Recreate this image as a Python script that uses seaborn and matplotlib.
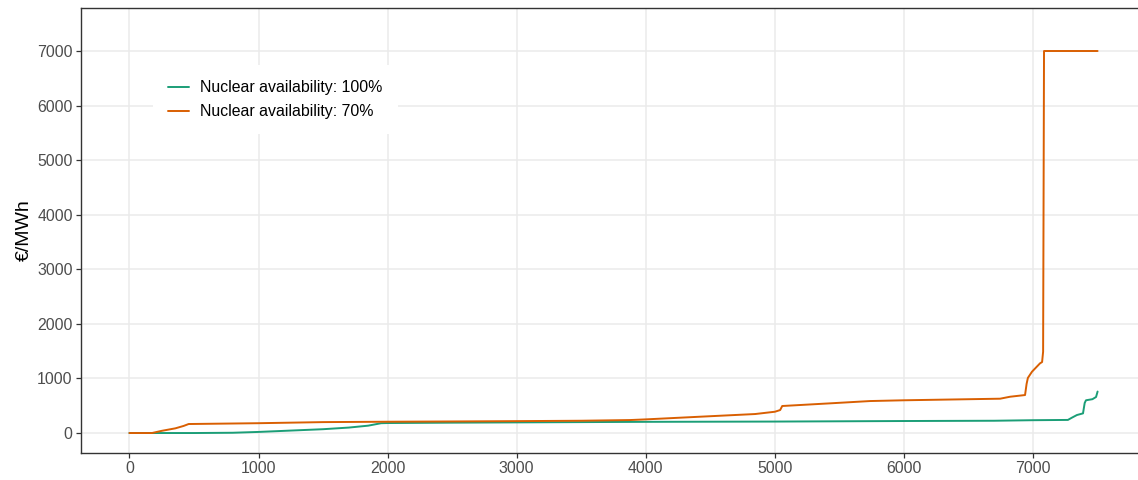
import matplotlib
matplotlib.use("Agg")
import matplotlib.pyplot as plt
import pandas as pd
import seaborn as sns

# Price duration curves (hours sorted by price)
green_x = [0, 150, 500, 800, 1000, 1300, 1500, 1700, 1850, 1950, 2000, 2500,
           3000, 3500, 4000, 5000, 6000, 6700, 7000, 7270, 7300, 7340, 7387,
           7400, 7410, 7460, 7488, 7500]
green_y = [0, 0, 0, 5, 20, 50, 70, 100, 135, 180, 183, 190,
           195, 200, 205, 210, 220, 225, 235, 240, 280, 330, 360,
           550, 600, 620, 660, 760]

orange_x = [0, 175, 250, 356, 420, 459, 1000, 1500, 2000, 2500, 3000, 3500,
            3880, 4000, 4421, 4847, 5000, 5041, 5057, 5428, 5738, 6000, 6745,
            6822, 6938, 6950, 6960, 6992, 7054, 7070, 7078, 7085, 7500]
orange_y = [0, 0, 40, 86, 130, 165, 180, 200, 207, 212, 218, 225,
            238, 250, 299, 348, 390, 421, 495, 544, 586, 600, 629,
            665, 696, 900, 1010, 1124, 1277, 1300, 1490, 7000, 7000]

series_names = ["Nuclear availability: 100%", "Nuclear availability: 70%"]
series_colors = ["#1B9E77", "#D95F02"]
x_ticks = [0, 1000, 2000, 3000, 4000, 5000, 6000, 7000]
y_ticks = [0, 1000, 2000, 3000, 4000, 5000, 6000, 7000]
y_label = "€/MWh"

df = pd.concat([
    pd.DataFrame({"hour": green_x, "price": green_y, "scenario": series_names[0]}),
    pd.DataFrame({"hour": orange_x, "price": orange_y, "scenario": series_names[1]}),
])

sns.set_theme(style="white")
plt.rcParams["font.family"] = ["Liberation Sans", "DejaVu Sans"]

fig = plt.figure(figsize=(11.38, 4.8), dpi=100)
ax = fig.add_axes([81 / 1138, 1 - 453 / 480, (1146 - 81) / 1138, 445 / 480])

sns.lineplot(data=df, x="hour", y="price", hue="scenario", hue_order=series_names,
             palette=dict(zip(series_names, series_colors)), estimator=None,
             sort=False, linewidth=1.4, ax=ax)

ax.set_xlim(-375, 7875)
ax.set_ylim(-366, 7788)
ax.set_xticks(x_ticks)
ax.set_yticks(y_ticks)
ax.grid(True, color="#EBEBEB", linewidth=1.1)
ax.set_axisbelow(True)

for s in ax.spines.values():
    s.set_color("#333333")
    s.set_linewidth(1.0)

ax.tick_params(axis="both", which="major", length=3.5, width=0.9, color="#333333",
               labelcolor="#4D4D4D", labelsize=11.4, pad=2.5,
               bottom=True, left=True)
ax.set_xlabel("")
ax.set_ylabel(y_label, fontsize=14, color="black", labelpad=3)

leg = ax.legend(loc="upper left", bbox_to_anchor=(0.0676, 0.8719), borderaxespad=0,
                fontsize=11.4, frameon=True, fancybox=False, framealpha=1,
                facecolor="white", edgecolor="none", borderpad=0.95,
                labelspacing=0.58, handlelength=1.3, handletextpad=0.75, title=None)
for line in leg.get_lines():
    line.set_linewidth(1.4)
for t in leg.get_texts():
    t.set_color("black")

fig.savefig("out.png", dpi=100)
